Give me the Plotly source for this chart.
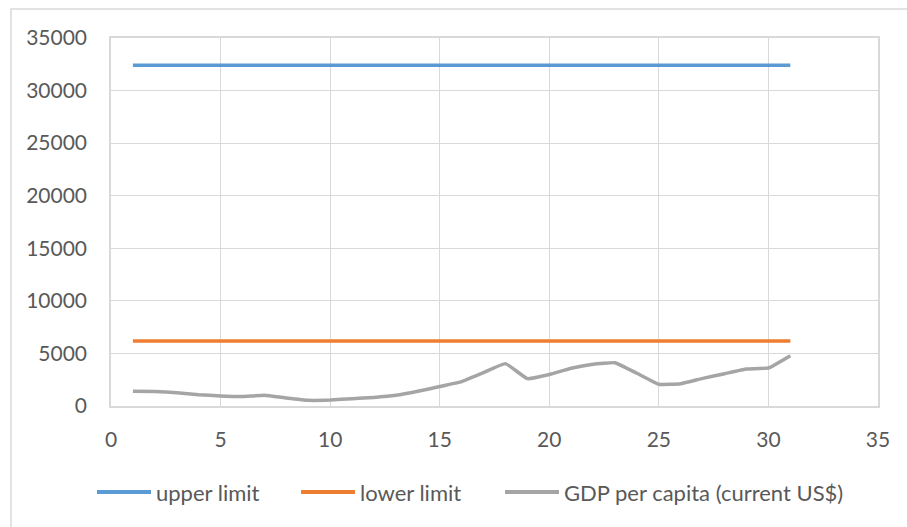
import plotly.graph_objects as go

# Observation index and series values
periods = list(range(1, 32))
upper_limit = [32400] * 31
lower_limit = [6180] * 31
gdp_per_capita = [
    1400, 1370, 1270, 1080, 950, 900, 1020, 760, 540, 570,
    700, 820, 1020, 1400, 1850, 2320, 3180, 4030, 2600, 2990,
    3590, 3970, 4120, 3110, 2070, 2120, 2630, 3070, 3520, 3620,
    4790,
]
series_names = ["upper limit", "lower limit", "GDP per capita (current US$)"]
series_colors = ["#5B9BD5", "#ED7D31", "#A5A5A5"]

x_ticks = [0, 5, 10, 15, 20, 25, 30, 35]
y_ticks = [0, 5000, 10000, 15000, 20000, 25000, 30000, 35000]

FONT = "Lato"
TEXT = "#595959"
GRID = "#D9D9D9"

fig = go.Figure()
for name, vals, col in zip(series_names, [upper_limit, lower_limit, gdp_per_capita], series_colors):
    fig.add_trace(go.Scatter(
        x=periods, y=vals, mode="lines", name=name, showlegend=False,
        line=dict(color=col, width=3.5, shape="spline", smoothing=0.3),
    ))

W, H = 907, 527
L, R, T, B = 111, 29, 38, 121
pw, ph = W - L - R, H - T - B

def px_to_paper(px, py):
    return (px - L) / pw, (H - B - py) / ph

# Outer chart frame (left and top edges)
x0, y1 = px_to_paper(11, 9)
x1, y0 = px_to_paper(W + 5, H + 5)
fig.add_shape(
    type="path", xref="paper", yref="paper",
    path=f"M {x0} {y0} L {x0} {y1} L {x1} {y1}",
    line=dict(color=GRID, width=1.5),
)

# Legend drawn below the plot: a line swatch followed by its label
legend_y = 492
swatch_starts = [97, 301, 505]
swatch_len = 54
for name, col, sx in zip(series_names, series_colors, swatch_starts):
    ax0, ay = px_to_paper(sx, legend_y)
    ax1, _ = px_to_paper(sx + swatch_len, legend_y)
    fig.add_shape(
        type="line", xref="paper", yref="paper",
        x0=ax0, x1=ax1, y0=ay, y1=ay,
        line=dict(color=col, width=4),
    )
    tx, _ = px_to_paper(sx + swatch_len + 3, legend_y)
    fig.add_annotation(
        xref="paper", yref="paper", x=tx, y=ay,
        xanchor="left", yanchor="middle", showarrow=False,
        text=name, font=dict(family=FONT, size=22, color=TEXT),
    )

fig.update_layout(
    width=W, height=H,
    margin=dict(l=L, r=R, t=T, b=B),
    paper_bgcolor="white", plot_bgcolor="white",
    font=dict(family=FONT, size=21, color=TEXT),
    showlegend=False,
)
fig.update_xaxes(
    range=[0, 35], tickvals=x_ticks, ticktext=[str(v) for v in x_ticks],
    showgrid=True, gridcolor=GRID, gridwidth=1.2,
    zeroline=False, showline=True, mirror=True, linecolor=GRID, linewidth=1.5,
    ticks="", ticklabelstandoff=14,
    tickfont=dict(family=FONT, size=21, color=TEXT),
)
fig.update_yaxes(
    range=[0, 35000], tickvals=y_ticks, ticktext=[str(v) for v in y_ticks],
    showgrid=True, gridcolor=GRID, gridwidth=1.2,
    zeroline=False, showline=True, mirror=True, linecolor=GRID, linewidth=1.5,
    ticks="", ticklabelstandoff=18,
    tickfont=dict(family=FONT, size=21, color=TEXT),
)

fig.write_html("out.html")
